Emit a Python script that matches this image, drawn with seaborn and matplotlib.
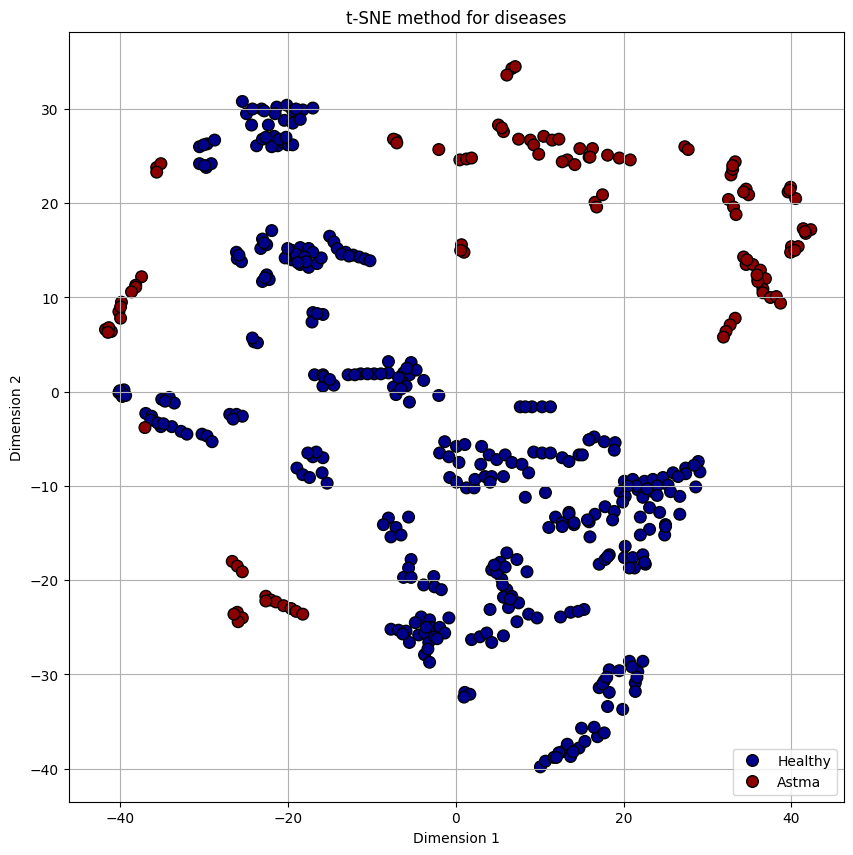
import matplotlib
matplotlib.use("Agg")
import matplotlib.pyplot as plt
import seaborn as sns
import pandas as pd

healthy_x = [
    -25.4, -24.9, -24.3, -23.1, -22.3, -21.3, -20.1, -19.4, -18.2, -17.0, -20.4, -19.4,
    -23.7, -23.0, -22.2, -21.6, -21.2, -20.6, -20.0, -19.4, -21.9,
    -30.5, -29.6, -28.7, -30.5, -29.7, -29.1,
    -26.1, -26.0, -25.5, -21.9, -23.0, -23.2, -22.5, -22.5, -23.0, -22.2,
    -20.0, -19.5, -18.5, -17.5, -19.5, -18.5, -17.5, -16.5, -16.0, -20.3, -17.0,
    -15.0, -14.5, -14.1, -13.1, -12.2, -11.5, -10.8, -10.2, -13.6, -12.7,
    -24.0, -23.6, -24.2, -17.0, -15.8, -17.1, -16.5,
    -16.8, -15.8, -15.8, -39.8, -39.5, -40.1,
    -35.0, -34.1, -33.5, -34.6, -36.9, -36.2, -36.3,
    -35.1, -33.8, -32.7, -32.0, -30.2, -29.6, -29.0,
    -26.9, -26.1, -25.4, -26.5,
    -17.0, -15.8, -18.9, -18.2, -17.4, -15.9, -15.3, -16.6, -17.6,
    -15.7, -14.5, -12.8, -11.3, -9.7, -8.0, -8.0, -7.4, -7.1, -6.2, -5.5, -5.3, -4.7,
    -3.8, -5.5, -2.0, -12.0, -10.5, -8.9, -15.0, -6.3, -5.9,
    7.7, 9.1, 10.3, 11.3, 8.3,
    -1.3, 0.1, 1.1, -1.9, -0.8, 0.4, -0.7, 0.1, 1.3, 2.2, 2.3, 3.5, 4.3, 5.7,
    3.1, 4.0, 4.9, 3.0, 5.9, 6.7, 7.9, 8.7, 9.3, 10.3, 11.3, 12.7, 13.5, 14.7, 15.9,
    8.3, 10.7, 4.1,
    -8.0, -8.6, -7.1, -5.6, -7.7, -6.5,
    11.9, 13.5, 12.7, 11.1, 14.1, 15.9,
    16.5, 17.7, 19.0, 18.9, 15.9, 15.1,
    20.1, 21.1, 22.5, 23.5, 24.7, 25.9, 27.4, 28.9, 29.1, 28.6, 19.6, 20.2, 21.7, 22.3,
    23.5, 25.3, 25.6, 26.7, 19.9, 23.1, 22.0, 24.3, 26.7, 23.1, 25.0, 22.0, 24.9,
    17.8, 18.9, 16.6, 15.7, 16.0, 18.7, 27.4, 28.4,
    25.0, 20.2, 20.1, 21.1, 22.3, 22.6, 21.3, 20.7, 18.3, 17.1, 17.8, 13.5, 14.1, 12.7,
    -5.3, -5.6, -6.2, -5.3, -3.8, -2.6, -2.5, -1.7,
    -7.7, -6.8, -5.9, -5.5, -4.4, -4.1, -3.1, -2.9, -1.9, -0.8, -3.7, -3.2, -3.7, -3.1,
    -2.5, -1.3,
    6.1, 4.3, 5.3, 7.3, 8.5, 5.5, 6.1, 5.7, 6.3, 7.5, 8.7, 9.7, 7.3, 4.1, 4.9, 6.7,
    12.5, 13.7, 15.3, 14.6,
    1.9, 2.9, 3.7, 4.3, 5.7, 1.1, 1.7, 1.0,
    18.1, 22.5,
    20.7, 22.3, 21.7, 21.4, 21.4, 18.3, 19.5, 17.7, 17.1, 18.3, 18.1, 19.9,
    10.1, 10.7, 11.7, 12.7, 13.3, 13.7, 14.7, 15.4, 16.9, 17.7, 16.5, 15.0, 12.3,
    -21.5, -22.8, -19.0, -18.5, -24.2, -22.6, -21.0, -20.2, -29.9, -30.0,
    -25.8, -22.8, -22.7, -19.0, -18.0, -17.8, -20.0, -18.8,
    -39.7, -40.0, -39.3, -35.5, -34.8, -6.8, -5.8, -6.5,
    21.5, 24.0, 22.8, 20.5, 26.5, 24.0,
    -3.5, -2.2, -4.8, -3.3, -6.3,
    5.9, 5.6, 6.5, 4.6, 21.0, 21.6, 17.5, 18.0, 12.0, 14.0,
]
healthy_y = [
    30.8, 29.5, 28.3, 30.0, 28.3, 30.2, 30.4, 29.8, 29.9, 30.1, 28.8, 28.5,
    26.1, 26.8, 26.9, 27.1, 26.1, 26.5, 26.2, 26.2, 26.0,
    26.0, 26.3, 26.7, 24.2, 23.8, 24.2,
    14.8, 14.1, 13.8, 17.1, 16.2, 15.2, 15.6, 12.4, 11.7, 11.9,
    14.5, 15.0, 15.3, 15.2, 14.0, 13.5, 13.2, 13.6, 14.2, 14.2, 14.8,
    16.5, 15.9, 15.2, 14.8, 14.5, 14.3, 14.1, 13.9, 14.6, 14.4,
    5.3, 5.2, 5.7, 8.4, 8.2, 7.4, 8.3,
    1.8, 1.8, 0.6, -0.3, 0.2, -0.1,
    -0.8, -0.6, -1.2, -1.0, -2.3, -2.6, -3.0,
    -3.7, -3.7, -4.2, -4.5, -4.5, -4.7, -5.3,
    -2.4, -2.4, -2.6, -2.9,
    -6.9, -7.0, -8.1, -8.8, -9.1, -8.6, -9.7, -6.4, -6.5,
    1.6, 0.7, 1.8, 1.9, 1.9, 2.0, 3.2, 0.5, -0.3, 2.0, 1.8, 3.1, 2.3,
    1.2, -1.1, -0.4, 1.8, 1.9, 1.9, 1.3, 1.0, 0.6,
    -1.6, -1.6, -1.6, -1.6, -1.6,
    -5.3, -5.8, -5.6, -6.5, -6.9, -7.5, -9.1, -9.6, -10.2, -10.2, -9.3, -9.0, -9.0, -9.0,
    -5.8, -6.7, -7.2, -7.7, -6.7, -7.5, -7.7, -8.6, -6.4, -6.5, -6.5, -7.0, -7.4, -6.7, -5.1,
    -11.2, -10.7, -9.6,
    -13.4, -14.1, -14.4, -13.3, -15.4, -15.2,
    -13.3, -12.8, -13.9, -14.4, -14.1, -13.8,
    -4.8, -5.3, -5.4, -6.2, -5.1, -6.7,
    -9.5, -9.3, -9.5, -9.3, -9.1, -8.6, -8.1, -7.4, -8.5, -10.1, -10.6, -11.1, -10.4, -11.2,
    -10.6, -9.9, -10.6, -11.1, -11.7, -12.3, -13.3, -12.8, -13.0, -14.6, -14.1, -15.2, -15.2,
    -12.2, -12.7, -13.0, -13.6, -15.4, -13.6, -8.7, -7.8,
    -14.3, -16.4, -17.6, -17.6, -17.3, -18.3, -18.7, -18.7, -17.3, -18.3, -17.8, -13.0, -13.9, -14.3,
    -17.8, -18.7, -19.7, -19.7, -20.5, -19.6, -20.7, -21.0,
    -25.2, -25.3, -25.4, -26.6, -25.8, -23.9, -24.2, -25.0, -25.0, -24.0, -25.6, -26.6, -27.9, -28.7,
    -26.0, -25.6,
    -17.1, -18.9, -18.1, -17.8, -19.1, -19.9, -21.0, -21.8, -22.9, -22.4, -23.6, -24.0, -24.4, -23.1, -19.2, -21.7,
    -23.9, -23.4, -23.1, -23.3,
    -26.3, -26.0, -25.6, -26.6, -25.9, -31.9, -32.1, -32.4,
    -17.5, -18.1,
    -28.6, -28.6, -29.7, -30.9, -31.8, -29.5, -29.6, -30.7, -31.4, -31.9, -33.4, -33.7,
    -39.8, -39.2, -38.8, -38.2, -37.4, -38.7, -37.8, -37.1, -36.6, -36.2, -35.6, -35.7, -38.3,
    29.5, 29.8, 30.0, 28.9, 30.0, 27.0, 26.8, 27.0, 24.0, 26.2,
    14.5, 15.8, 12.1, 14.6, 14.3, 13.8, 15.2, 13.7,
    -0.5, 0.1, -0.4, -3.3, -3.4, 1.5, 2.5, 0.3,
    -10.0, -10.0, -10.3, -10.0, -9.0, -11.0,
    -25.0, -26.2, -24.5, -27.3, -25.7,
    -18.6, -20.5, -22.0, -18.4, -29.2, -30.3, -31.0, -30.3, -38.8, -38.2,
]

astma_x = [
    -35.6, -35.1, -35.6,
    -37.4, -38.1, -38.1, -38.6, -39.8, -40.1, -39.9, -41.7, -41.0, -41.3,
    -37.0,
    -26.6, -26.0, -25.4,
    -22.6, -22.0, -21.4, -20.5, -19.6, -19.0, -18.2, -22.6,
    -26.0, -25.4, -25.9, -26.4,
    6.7, 6.1, 7.1,
    -7.1, -7.4, -7.0,
    -2.0,
    0.5, 1.3, 1.9,
    5.1, 5.7, 5.5,
    7.5, 8.9, 9.3, 9.9, 10.5, 11.5, 12.3,
    13.3, 14.2, 12.7, 14.8, 15.9,
    0.7, 1.0, 0.6,
    16.3, 16.0, 18.1, 19.5, 20.8,
    27.3, 27.7,
    16.6, 17.5, 16.8,
    33.3, 32.8, 33.0,
    34.6, 34.9, 34.3,
    32.5, 33.1, 33.4,
    39.9, 39.6, 40.5,
    41.4, 42.3, 41.7,
    40.0, 40.8, 39.9,
    34.3, 34.6, 35.4, 36.3, 36.0, 36.9, 36.6,
    36.0, 36.6, 37.5, 38.2, 38.7,
    33.3, 32.7, 32.2, 31.9,
    -41.4, -39.9, 33.0, 39.8, 41.6, 40.4, 35.9, 34.7,
]
astma_y = [
    23.8, 24.2, 23.3,
    12.2, 11.3, 11.1, 10.6, 9.5, 8.5, 7.8, 6.6, 6.4, 6.8,
    -3.8,
    -18.0, -18.5, -19.1,
    -21.7, -22.1, -22.3, -22.7, -23.0, -23.3, -23.6, -22.2,
    -23.4, -24.0, -24.4, -23.6,
    34.3, 33.6, 34.5,
    26.7, 26.8, 26.4,
    25.7,
    24.6, 24.7, 24.8,
    28.3, 27.6, 28.0,
    26.8, 26.7, 26.2, 25.2, 27.1, 26.7, 26.8,
    24.6, 24.1, 24.4, 25.8, 24.9,
    15.6, 14.8, 15.0,
    25.8, 24.9, 25.1, 24.8, 24.6,
    26.0, 25.7,
    20.1, 20.9, 19.6,
    24.4, 23.0, 23.6,
    21.5, 20.9, 21.2,
    20.4, 19.6, 18.8,
    21.7, 21.2, 20.5,
    17.3, 17.2, 16.8,
    15.4, 15.4, 14.8,
    14.3, 13.5, 13.5, 12.9, 11.9, 12.0, 10.9,
    11.7, 10.5, 10.0, 10.1, 9.4,
    7.8, 7.1, 6.4, 5.8,
    6.3, 9.0, 24.0, 21.4, 17.0, 15.0, 12.4, 14.0,
]

df = pd.DataFrame({
    "x": healthy_x + astma_x,
    "y": healthy_y + astma_y,
    "label": ["Healthy"] * len(healthy_x) + ["Astma"] * len(astma_x),
})

fig, ax = plt.subplots(figsize=(10, 10), dpi=100)
sns.scatterplot(data=df, x="x", y="y", hue="label", hue_order=["Healthy", "Astma"],
                palette={"Healthy": "darkblue", "Astma": "darkred"},
                s=70, edgecolor="black", linewidth=1, ax=ax)
ax.set_xlim(-46.1, 46.2)
ax.set_ylim(-43.5, 38.2)
ax.set_title("t-SNE method for diseases")
ax.set_xlabel("Dimension 1")
ax.set_ylabel("Dimension 2")
ax.grid(True)
ax.legend(loc="lower right")
fig.savefig("out.png", dpi=100, bbox_inches="tight")
